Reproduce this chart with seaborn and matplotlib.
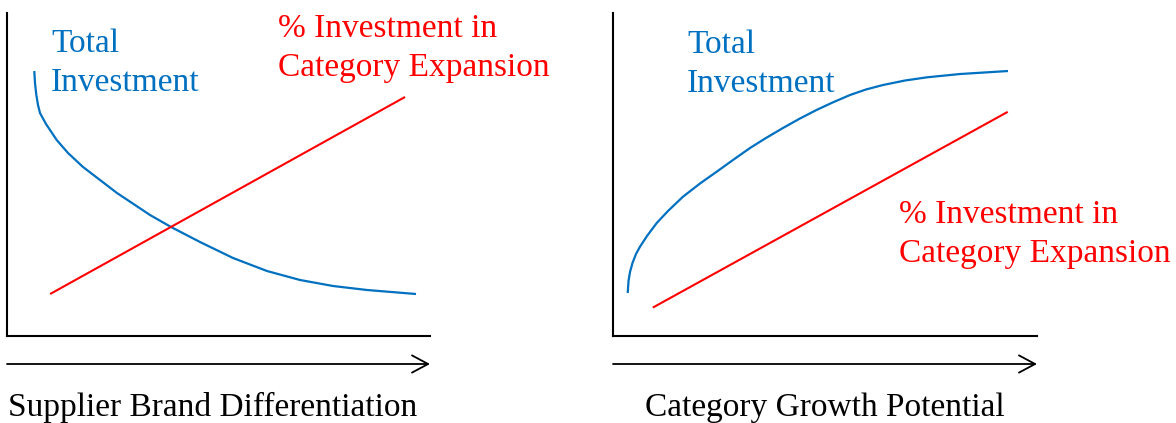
import matplotlib
matplotlib.use("Agg")
import matplotlib.pyplot as plt
import seaborn as sns
import pandas as pd

# ---- data (relative units 0-100 on each schematic axis) ----
left_total_x = [6.45, 6.62, 6.93, 7.33, 7.80, 9.22, 11.75, 14.42, 17.97, 21.99, 26.00, 30.26,
                33.81, 38.77, 45.63, 53.43, 61.47, 69.27, 77.07, 85.11, 96.69]
left_total_y = [82.04, 78.33, 74.61, 71.52, 69.04, 65.63, 60.68, 56.66, 52.32, 48.30, 44.27, 40.56,
                37.46, 33.75, 29.10, 24.15, 20.12, 17.34, 15.48, 14.24, 13.00]
left_pct_x = [10.2, 94.1]
left_pct_y = [13.0, 74.0]

right_total_x = [3.47, 3.66, 4.01, 4.60, 5.42, 6.37, 8.02, 10.31, 12.97, 16.51, 20.52, 24.46, 28.30,
                 32.31, 36.08, 40.09, 44.10, 48.04, 51.89, 55.90, 59.67, 63.68, 68.87, 74.06, 81.84, 93.16]
right_total_y = [13.31, 17.03, 19.81, 22.60, 25.39, 27.65, 30.96, 34.98, 38.70, 43.13, 47.21, 50.87, 54.49,
                 58.20, 61.30, 64.40, 67.34, 70.00, 72.35, 74.61, 76.32, 77.71, 79.10, 80.09, 81.11, 82.04]
right_pct_x = [9.4, 93.1]
right_pct_y = [8.8, 69.4]

x_labels = ["Supplier Brand Differentiation", "Category Growth Potential"]
total_label = ["Total", "Investment"]
pct_label = ["% Investment in", "Category Expansion"]

BLUE = "#0070C0"
RED = "#FF0000"

sns.set_style("white")
plt.rcParams["font.family"] = ["Liberation Serif", "DejaVu Serif"]

W, H = 1176, 423
fig = plt.figure(figsize=(W / 100, H / 100), dpi=100)

def fx(px):
    return px / W

def fy(py):
    return 1 - py / H

# axes: left panel px 7..430, right 613..1037, vertical 13..336
ax_l = fig.add_axes([fx(7), fy(336), (430 - 7) / W, (336 - 13) / H])
ax_r = fig.add_axes([fx(613), fy(336), (1037 - 613) / W, (336 - 13) / H])

panels = [
    (ax_l, left_total_x, left_total_y, left_pct_x, left_pct_y),
    (ax_r, right_total_x, right_total_y, right_pct_x, right_pct_y),
]
for ax, tx, ty, px_, py_ in panels:
    sns.lineplot(data=pd.DataFrame({"x": tx, "y": ty}), x="x", y="y", ax=ax,
                 color=BLUE, lw=1.6, estimator=None, sort=False)
    sns.lineplot(data=pd.DataFrame({"x": px_, "y": py_}), x="x", y="y", ax=ax,
                 color=RED, lw=1.5, estimator=None, sort=False)
    for ln in ax.lines:
        ln.set_solid_joinstyle("round")
        ln.set_solid_capstyle("butt")
    ax.set_xlim(0, 100)
    ax.set_ylim(0, 100)
    ax.set_xticks([])
    ax.set_yticks([])
    ax.set_xlabel("")
    ax.set_ylabel("")
    for s in ["top", "right"]:
        ax.spines[s].set_visible(False)
    for s in ["left", "bottom"]:
        ax.spines[s].set_visible(True)
        ax.spines[s].set_color("black")
        ax.spines[s].set_linewidth(1.5)
    ax.patch.set_alpha(0)
    # arrow under the axis
    ax.annotate("", xy=(1.0, -28 / 323), xytext=(0.0, -28 / 323),
                xycoords="axes fraction", textcoords="axes fraction",
                arrowprops=dict(arrowstyle="->,head_length=0.58,head_width=0.31",
                                lw=1.3, color="black", mutation_scale=20,
                                shrinkA=0, shrinkB=0),
                annotation_clip=False)

FS = 24
# left panel texts
fig.text(fx(51), fy(52), total_label[0], color=BLUE, fontsize=FS, va="baseline", ha="left")
fig.text(fx(51), fy(91), total_label[1], color=BLUE, fontsize=FS, va="baseline", ha="left")
fig.text(fx(278), fy(37), pct_label[0], color=RED, fontsize=FS, va="baseline", ha="left")
fig.text(fx(278), fy(76), pct_label[1], color=RED, fontsize=FS, va="baseline", ha="left")
# right panel texts
fig.text(fx(687), fy(53), total_label[0], color=BLUE, fontsize=FS, va="baseline", ha="left")
fig.text(fx(687), fy(92), total_label[1], color=BLUE, fontsize=FS, va="baseline", ha="left")
fig.text(fx(899), fy(223), pct_label[0], color=RED, fontsize=FS, va="baseline", ha="left")
fig.text(fx(899), fy(262), pct_label[1], color=RED, fontsize=FS, va="baseline", ha="left")
# x labels
fig.text(fx(8), fy(416), x_labels[0], color="black", fontsize=FS, va="baseline", ha="left")
fig.text(fx(645), fy(416), x_labels[1], color="black", fontsize=FS, va="baseline", ha="left")

fig.savefig("out.png", dpi=100)
